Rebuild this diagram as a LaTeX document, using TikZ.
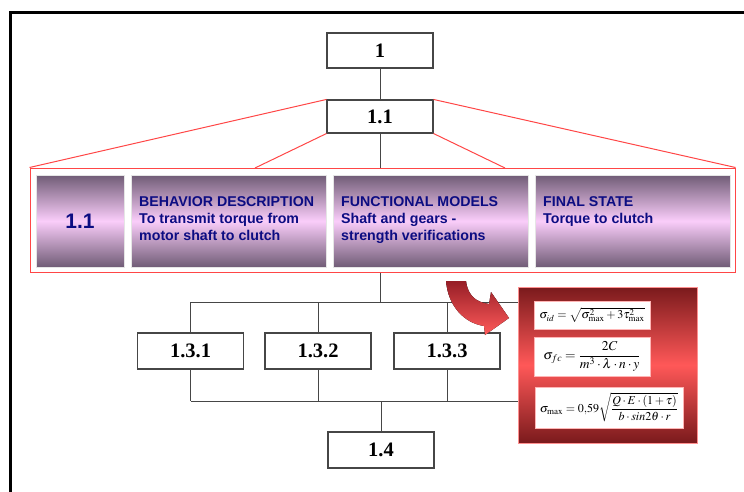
\documentclass[tikz,border=0pt]{standalone}
\usepackage{amsmath}
\usepackage{mathptmx}
\usepackage[no-math]{fontspec}
\setmainfont{Liberation Serif}
\setsansfont{Liberation Sans}
\usetikzlibrary{calc}
\definecolor{boxgray}{RGB}{70,70,70}
\definecolor{linered}{RGB}{255,70,70}
\definecolor{paneldark}{RGB}{112,92,118}
\definecolor{panellight}{RGB}{250,205,250}
\definecolor{textblue}{RGB}{12,12,130}
\definecolor{formdark}{RGB}{122,26,28}
\definecolor{formlight}{RGB}{255,88,88}
\definecolor{arrowdark}{RGB}{150,30,38}
\definecolor{arrowlight}{RGB}{255,90,90}
\tikzset{numbox/.style={draw=boxgray, line width=1.1pt, fill=white, minimum width=106pt, minimum height=36pt, inner sep=0pt, font=\bfseries\fontsize{20.5}{20.5}\selectfont}}
\tikzset{detailbox/.style={draw=linered, line width=1pt, fill=white, minimum width=705pt, minimum height=104pt, inner sep=0pt}}
\tikzset{panel/.style={draw=white!80!gray, line width=0.6pt, minimum width=195pt, minimum height=92pt, inner sep=0pt, top color=paneldark, bottom color=paneldark, middle color=panellight, text=textblue, font=\sffamily\bfseries\fontsize{21}{21}\selectfont}}
\tikzset{paneltext/.style={anchor=north west, inner sep=0pt, align=left, text=textblue, font=\sffamily\bfseries\fontsize{14.2}{17}\selectfont}}
\tikzset{formbox/.style={draw=linered!60!white, line width=0.8pt, minimum width=179pt, minimum height=156pt, inner sep=0pt, top color=formdark, bottom color=formdark, middle color=formlight}}
\tikzset{formula/.style={draw=linered!40!white, line width=0.6pt, fill=white, inner sep=0pt, font=\fontsize{12}{14}\selectfont}}
\tikzset{redline/.style={draw=linered, line width=1pt}}
\tikzset{link/.style={draw=boxgray, line width=0.7pt}}

\begin{document}
\begin{tikzpicture}[x=1pt, y=-1pt]
\useasboundingbox (0,0) rectangle (744,492);

\draw[line width=3pt] (10.5,492) -- (10.5,12.5) -- (744,12.5);

\node[numbox, minimum height=35pt] (n1) at (380,50.5) {1};
\node[numbox, minimum height=33pt] (n11) at (380,116.5) {1.1};

\node[detailbox] (detail) at (382.5,220) {};
\node[panel, minimum width=88pt] (p0) at (80,221) {1.1};
\node[panel] (p1) at (228.5,221) {};
\node[panel] (p2) at (430.5,221) {};
\node[panel] (p3) at (633,221) {};

\node[paneltext] (t1) at (139,196) {BEHAVIOR DESCRIPTION\\To transmit torque from\\motor shaft to clutch};
\node[paneltext] (t2) at (341,196) {FUNCTIONAL MODELS\\Shaft and gears -\\strength verifications};
\node[paneltext] (t3) at (543,196) {FINAL STATE\\Torque to clutch};

\coordinate (dl) at (255,168);
\coordinate (dr) at (505,168);
\draw[redline] (n11.north west) -- (detail.north west);
\draw[redline] (n11.north east) -- (detail.north east);
\draw[redline] (n11.south west) -- (dl);
\draw[redline] (n11.south east) -- (dr);

\draw[link] (n1) -- (n11);
\draw[link] (n11) -- (n11 |- detail.north);

\node[numbox] (n131) at (190.5,351) {1.3.1};
\node[numbox] (n132) at (318,351) {1.3.2};
\node[numbox] (n133) at (447,351) {1.3.3};
\node[numbox] (n14) at (381,450) {1.4};

\coordinate (busl) at (190.5,302);
\coordinate (busr) at (522,302);
\coordinate (bdl) at (190.5,401);
\coordinate (bdr) at (522,401);
\draw[link] (busl) -- (busr);
\draw[link] (bdl) -- (bdr);
\draw[link] (n11 |- detail.south) -- (n11 |- busl);
\draw[link] (n131.north) -- (n131.north |- busl);
\draw[link] (n132.north) -- (n132.north |- busl);
\draw[link] (n133.north) -- (n133.north |- busl);
\draw[link] (n131.south) -- (n131.south |- bdl);
\draw[link] (n132.south) -- (n132.south |- bdl);
\draw[link] (n133.south) -- (n133.south |- bdl);
\draw[link] (n14.north) -- (n14.north |- bdl);

\fill[top color=arrowdark, bottom color=arrowlight]
  (446,281) -- (466,281) .. controls (468,296) and (476,302) .. (489,304)
  -- (491,292) -- (509,318) -- (485,335) -- (484,326)
  .. controls (464,323) and (448,306) .. (446,281) -- cycle;

\node[formbox] (form) at (607.5,365) {};
\node[formula, minimum width=116pt, minimum height=28pt] (f1) at (592,315)
  {$\sigma_{id} = \sqrt{\sigma^2_{\max} + 3\tau^2_{\max}}$};
\node[formula, minimum width=116pt, minimum height=39pt, font=\fontsize{13.5}{15}\selectfont] (f2) at (592,356.5)
  {$\sigma_{fc} = \dfrac{2C}{m^3\cdot\lambda\cdot n\cdot y}$};
\node[formula, minimum width=148pt, minimum height=41pt] (f3) at (609,407.5)
  {$\sigma_{\max} = 0{,}59\sqrt{\dfrac{Q\cdot E\cdot(1+\tau)}{b\cdot \mathit{sin}2\theta\cdot r}}$};

\end{tikzpicture}
\end{document}
